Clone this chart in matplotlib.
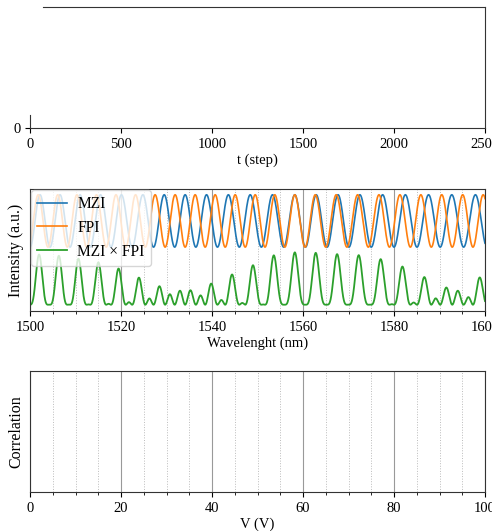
import numpy as np
import matplotlib
matplotlib.use("Agg")
import matplotlib.pyplot as plt
from matplotlib.ticker import MultipleLocator

# ---- data ----
# peak wavelengths (nm) of the two interferometer transmissions
mzi_peaks = [1497.8, 1502.2, 1506.6, 1511.0, 1515.5, 1520.1, 1524.8, 1529.5,
             1534.1, 1538.8, 1543.6, 1548.4, 1553.3, 1558.2, 1562.9, 1567.7,
             1572.5, 1577.5, 1582.5, 1587.6, 1592.7, 1597.9, 1603.0]
fpi_peaks = [1497.5, 1501.8, 1506.1, 1510.3, 1514.6, 1518.9, 1523.2, 1527.5,
             1531.9, 1536.3, 1540.7, 1545.1, 1549.5, 1553.8, 1558.2, 1562.7,
             1567.3, 1572.0, 1576.7, 1581.3, 1585.9, 1590.5, 1595.1, 1599.6,
             1604.2]
wl_range = [1500, 1600]
t_range = [0, 2500]
v_range = [0, 100]
series_labels = ["MZI", "FPI", "MZI \u00d7 FPI"]

plt.rcParams["font.family"] = ["Liberation Serif", "DejaVu Serif"]
plt.rcParams["font.size"] = 10.5
plt.rcParams["axes.linewidth"] = 0.8
plt.rcParams["axes.edgecolor"] = "#333333"
plt.rcParams["xtick.major.size"] = 3.5
plt.rcParams["xtick.minor.size"] = 2.0


def transmission(wl, peaks):
    # phase advances one full cycle between neighbouring peaks
    phase = np.interp(wl, peaks, 2 * np.pi * np.arange(len(peaks)))
    return 0.5 * (1 + np.cos(phase))


def add_vgrid(ax, major, minor):
    ax.xaxis.set_major_locator(MultipleLocator(major))
    ax.xaxis.set_minor_locator(MultipleLocator(minor))
    ax.grid(axis="x", which="major", color="#999999", linewidth=0.8)
    ax.grid(axis="x", which="minor", color="#bbbbbb", linestyle=":", linewidth=0.7)
    ax.set_axisbelow(True)


W, H = 492, 531
fig = plt.figure(figsize=(W / 100, H / 100), dpi=100)


def box(x0, y0, x1, y1):
    return [x0 / W, 1 - y1 / H, (x1 - x0) / W, (y1 - y0) / H]


# ---- top: time trace (empty) ----
ax1 = fig.add_axes(box(30, 7, 485, 128))
ax1.set_xlim(*t_range)
ax1.set_ylim(0, 1)
ax1.set_yticks([0])
ax1.xaxis.set_major_locator(MultipleLocator(500))
ax1.spines["left"].set_bounds(0, 0.11)
ax1.spines["top"].set_bounds(70, t_range[1])
ax1.set_xlabel("t (step)", labelpad=2)

# ---- middle: spectra ----
wl = np.linspace(wl_range[0], wl_range[1], 3000)
t_mzi = transmission(wl, mzi_peaks)
t_fpi = transmission(wl, fpi_peaks)

ax2 = fig.add_axes(box(30, 189, 485, 311))
ax2.plot(wl, 1.1 + t_mzi, color="C0", lw=1.2, label=series_labels[0])
ax2.plot(wl, 1.1 + t_fpi, color="C1", lw=1.2, label=series_labels[1])
ax2.plot(wl, t_mzi * t_fpi, color="C2", lw=1.3, label=series_labels[2])
ax2.set_xlim(*wl_range)
ax2.set_ylim(-0.12, 2.21)
ax2.set_yticks([])
add_vgrid(ax2, 20, 5)
ax2.set_xlabel("Wavelenght (nm)", labelpad=2)
ax2.set_ylabel("Intensity (a.u.)", fontsize=11.5)
ax2.legend(loc="upper left", borderaxespad=0.05, framealpha=0.8,
           handlelength=1.9, handletextpad=0.7, fontsize=11.2,
           labelspacing=0.5)

# ---- bottom: correlation (empty) ----
ax3 = fig.add_axes(box(30, 371, 485, 492))
ax3.set_xlim(*v_range)
ax3.set_yticks([])
add_vgrid(ax3, 20, 5)
ax3.set_xlabel("V (V)", labelpad=2)
ax3.set_ylabel("Correlation", fontsize=11.5)

fig.savefig("out.png", dpi=100)
